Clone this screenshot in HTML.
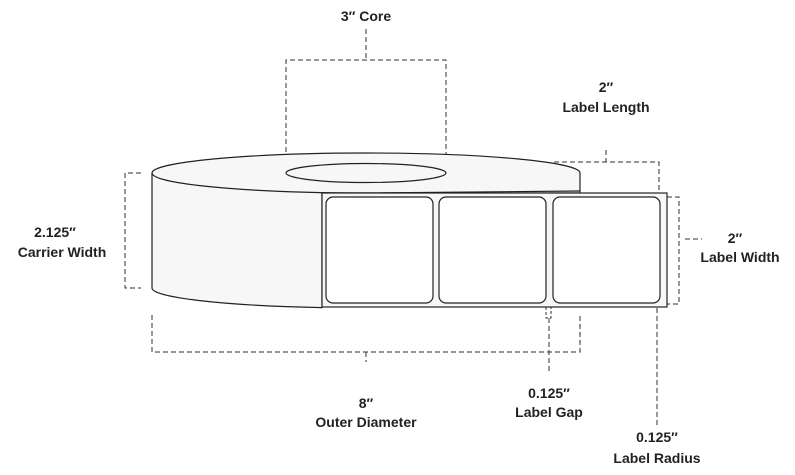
<!DOCTYPE html>
<html><head><meta charset="utf-8"><style>
html,body{margin:0;padding:0;background:#fff;}
svg{display:block}
text{font-family:"Liberation Sans",sans-serif;font-weight:bold;font-size:14px;fill:#222;text-anchor:middle}
</style></head><body>
<svg width="795" height="475" viewBox="0 0 795 475" xmlns="http://www.w3.org/2000/svg">
<g fill="none" stroke="#333" stroke-width="1" stroke-dasharray="5,3">
  <path d="M366 29V60M286 168V60H446V168"/>
  <path d="M141 173H125V288H141"/>
  <path d="M152 315V352H580V313M366 352V362"/>
  <path d="M606 150V162M553 193V162H659V193"/>
  <path d="M667 197H679V304H667M685 239H702"/>
  <path d="M549 318V372"/>
  <path d="M657 308V428"/>
</g>
<path d="M546 307V318H551V307" fill="none" stroke="#333" stroke-dasharray="3,2"/>
<!-- roll -->
<path d="M152 173A214 20 0 0 1 580 173V193H322V307.6A214 20 0 0 1 152 288Z" fill="#f7f7f7" stroke="#222" stroke-width="1.2"/>
<path d="M152 173A214 20 0 0 0 366 193L580 191" fill="none" stroke="#222" stroke-width="1.2"/>
<ellipse cx="366" cy="173" rx="80" ry="9.5" fill="#f7f7f7" stroke="#222" stroke-width="1.2"/>
<rect x="322" y="193" width="345" height="114" fill="#f7f7f7" stroke="#222" stroke-width="1.2"/>
<rect x="326" y="197" width="107" height="106" rx="7" fill="#fff" stroke="#222" stroke-width="1.2"/>
<rect x="439" y="197" width="107" height="106" rx="7" fill="#fff" stroke="#222" stroke-width="1.2"/>
<rect x="553" y="197" width="107" height="106" rx="7" fill="#fff" stroke="#222" stroke-width="1.2"/>
<text x="366" y="21">3″ Core</text>
<text x="606" y="92">2″</text>
<text x="606" y="112">Label Length</text>
<text x="55" y="237">2.125″</text>
<text x="62" y="257">Carrier Width</text>
<text x="735" y="243">2″</text>
<text x="740" y="262">Label Width</text>
<text x="366" y="408">8″</text>
<text x="366" y="427">Outer Diameter</text>
<text x="549" y="398">0.125″</text>
<text x="549" y="417">Label Gap</text>
<text x="657" y="442">0.125″</text>
<text x="657" y="463">Label Radius</text>
</svg>
</body></html>
